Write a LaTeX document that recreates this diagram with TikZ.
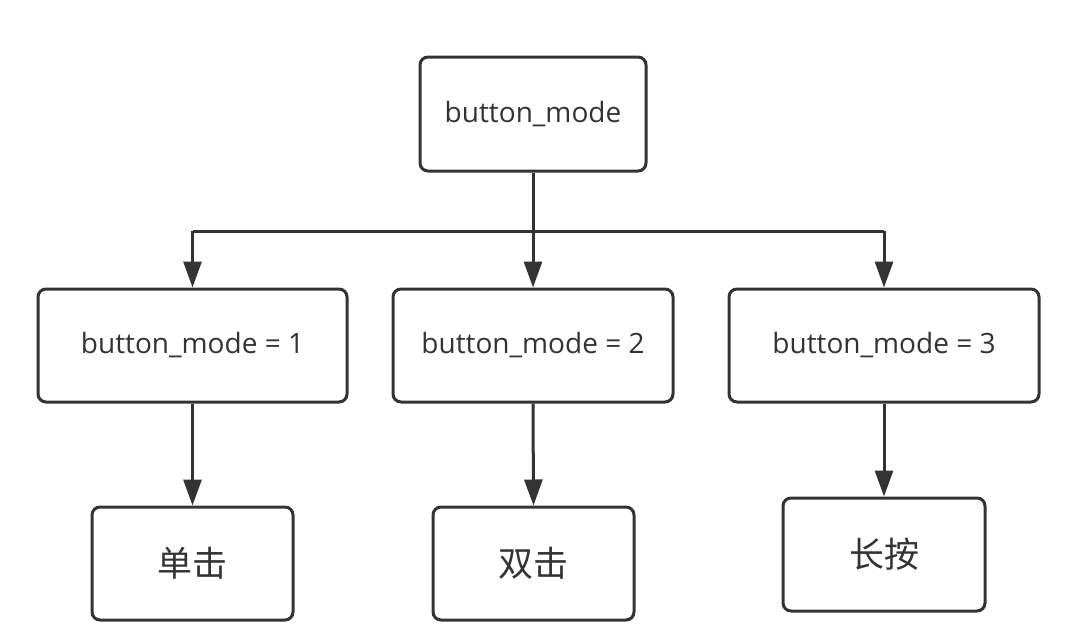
\documentclass[tikz,border=0pt]{standalone}
\usepackage{fontspec}
\setmainfont{Open Sans}
\newfontfamily\cjk{Noto Sans CJK SC}
\usetikzlibrary{arrows.meta}
\begin{document}
\begin{tikzpicture}[x=1pt,y=-1pt,
  box/.style={draw=black!80, line width=3pt, rounded corners=8pt, fill=white, inner sep=0pt, text=black!80},
  latin/.style={font=\fontsize{28}{32}\selectfont},
  han/.style={font=\cjk\fontsize{35}{40}\selectfont},
  conn/.style={draw=black!80, line width=3pt, -{Triangle[length=26pt,width=18pt]}},
  plain/.style={draw=black!80, line width=3pt}]
\useasboundingbox (0,0) rectangle (1075,640);
\node[box, latin, minimum width=226pt, minimum height=114pt] (top) at (533,114) {button\_mode};
\node[box, latin, minimum width=309pt, minimum height=113pt] (m1) at (192.5,345.5) {button\_mode = 1};
\node[box, latin, minimum width=280pt, minimum height=113pt] (m2) at (533,345.5) {button\_mode = 2};
\node[box, latin, minimum width=310pt, minimum height=113pt] (m3) at (884,345.5) {button\_mode = 3};
\node[box, han, minimum width=201pt, minimum height=113pt] (b1) at (192.5,563.5) {单击};
\node[box, han, minimum width=201pt, minimum height=113pt] (b2) at (533.5,563.5) {双击};
\node[box, han, minimum width=202pt, minimum height=113pt] (b3) at (884,554.5) {长按};
\coordinate (hl) at (192.5,231);
\coordinate (hr) at (884,231);
\draw[plain] (hl) -- (hr);
\draw[conn] (top.south) -- (m2.north);
\draw[conn] (hl) -- (m1.north);
\draw[conn] (hr) -- (m3.north);
\draw[conn] (m1.south) -- (b1.north);
\draw[conn] (m2.south) -- (b2.north);
\draw[conn] (m3.south) -- (b3.north);
\end{tikzpicture}
\end{document}
